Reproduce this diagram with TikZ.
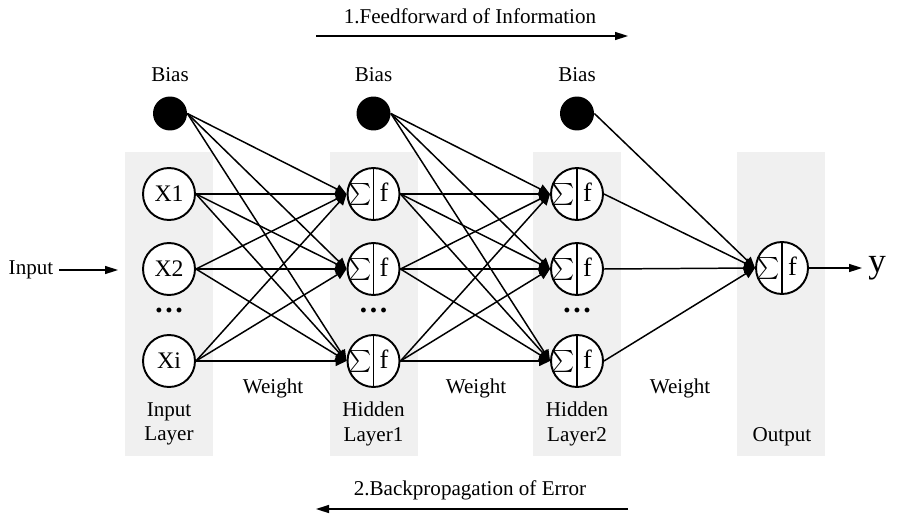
\documentclass[tikz,border=0pt]{standalone}
\usepackage{fontspec}
\setmainfont{Liberation Serif}
\usetikzlibrary{arrows.meta,calc,positioning}

\tikzset{
  neuron/.style={circle, draw, line width=1.1pt, fill=white, minimum size=1.04cm, inner sep=0pt, font=\fontsize{13.5}{14}\selectfont},
  sumnode/.style={neuron, path picture={\draw[line width=0.9pt] (path picture bounding box.north) -- (path picture bounding box.south);}},
  biasnode/.style={circle, fill=black, minimum size=0.68cm, inner sep=0pt},
  layerbg/.style={fill=black!6, draw=none},
  wire/.style={line width=0.85pt, -{Triangle[length=0.22cm,width=0.2cm]}},
  flow/.style={line width=0.85pt, -{Triangle[length=0.26cm,width=0.16cm]}},
}
\newcommand{\sumf}{\makebox[0pt][r]{\scalebox{1.25}{$\sum$}\hspace{1.2pt}}\makebox[0pt][l]{\hspace{3.5pt}\fontsize{15}{15}\selectfont f}}

\begin{document}
\begin{tikzpicture}[x=0.02cm, y=-0.02cm, font=\fontsize{12}{14}\selectfont]
            \useasboundingbox (0,0) rectangle (918,517);

            % Layer backgrounds
            \foreach \x in {125,330,533,737} {
                \fill[layerbg] (\x,152) rectangle (\x+88,456);
            }

            % Input neurons
            \foreach \n/\y/\t in {1/194/X1,2/269/X2,3/361/Xi} {
                \node[neuron] (x\n) at (169,\y) {\t};
            }

            % Hidden neurons (sum | activation)
            \foreach \n/\y in {1/194,2/269,3/361} {
                \node[sumnode] (h\n) at (373.5,\y) {\sumf};
                \node[sumnode] (g\n) at (577,\y) {\sumf};
            }

            % Output neuron
            \node[sumnode] (o) at (782,268) {\sumf};

            % Bias units
            \foreach \n/\x in {1/170,2/373.5,3/577} {
                \node[biasnode] (b\n) at (\x,113.5) {};
                \node (bl\n) at (\x,75) {Bias};
            }

            % Dots between neurons
            \foreach \n/\x in {1/169,2/373.5,3/577} {
                \node (d\n) at (\x,310) {\fontsize{17}{17}\selectfont\textbf{\dots}};
            }

            % Weights: input -> hidden 1 -> hidden 2
            \foreach \s in {1,2,3} {
                \foreach \t in {1,2,3} {
                    \draw[wire] (x\s.east) -- (h\t.west);
                    \draw[wire] (h\s.east) -- (g\t.west);
                }
                \draw[wire] (b1.east) -- (h\s.west);
                \draw[wire] (b2.east) -- (g\s.west);
                \draw[wire] (g\s.east) -- (o.west);
            }
            \draw[wire] (b3.east) -- (o.west);

            % Input and output
            \node (inlbl) at (31,270) {Input};
            \coordinate (inend) at (118,270);
            \draw[flow] (inlbl.east) -- (inend);
            \node[anchor=west, inner sep=0pt] (yout) at (868,268) {\fontsize{20}{20}\selectfont y};
            \draw[flow, shorten >=0.12cm] (o.east) -- (yout.west);

            % Labels
            \foreach \n/\x in {1/273,2/476,3/680} {
                \node (w\n) at (\x,388) {Weight};
            }
            \node[align=center] (l1) at (169,424) {Input\\Layer};
            \node[align=center] (l2) at (373.5,424) {Hidden\\Layer1};
            \node[align=center] (l3) at (577,424) {Hidden\\Layer2};
            \node (l4) at (782,437) {Output};

            % Feedforward / backpropagation
            \node (ff) at (470,16) {1.Feedforward of Information};
            \coordinate (ffa) at (316,36);
            \coordinate (ffb) at (628,36);
            \draw[flow] (ffa) -- (ffb);
            \node (bp) at (470,490) {2.Backpropagation of Error};
            \coordinate (bpa) at (628,509);
            \coordinate (bpb) at (316,509);
            \draw[flow] (bpa) -- (bpb);
\end{tikzpicture}
\end{document}
